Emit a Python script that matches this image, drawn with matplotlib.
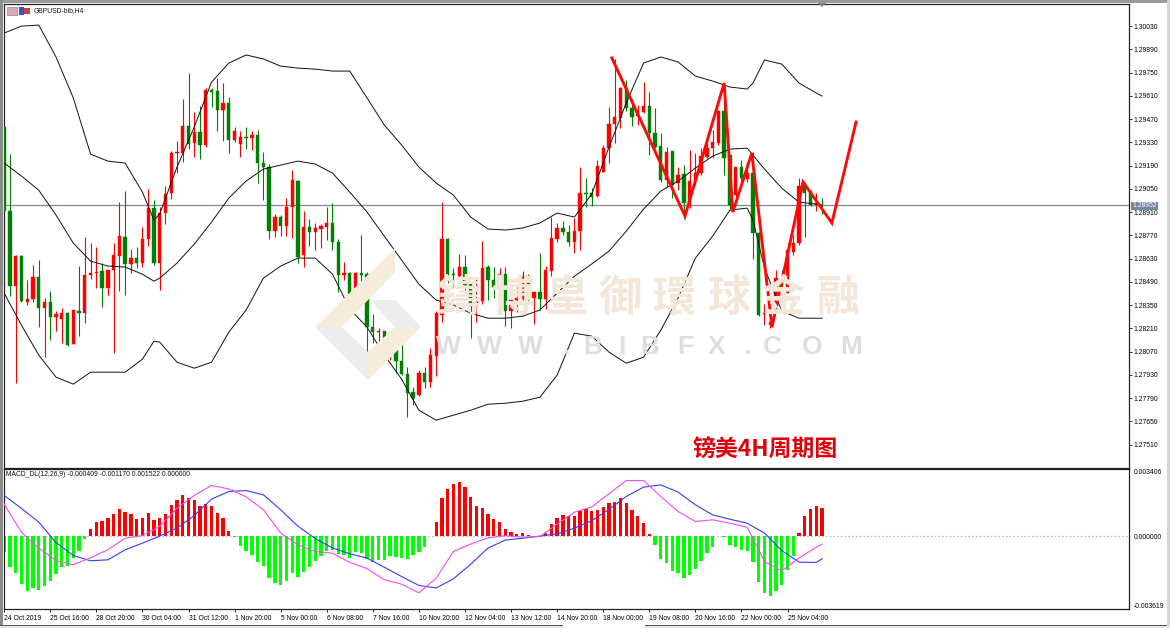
import matplotlib
matplotlib.use("Agg")
import matplotlib.pyplot as plt
from matplotlib.patches import Polygon, Rectangle

# GBPUSD H4 candles
opens = [1.29422,1.28916,1.28466,1.28645,1.28368,1.28386,1.28517,1.28330,1.28368,1.28277,1.28267,1.28300,1.28113,1.28314,1.28303,1.28530,1.28542,1.28554,1.28450,1.28561,
1.28647,1.28761,1.28597,1.28633,1.28601,1.28747,1.28934,1.28604,1.28902,1.29023,1.29264,1.29267,1.29428,1.29324,1.29394,1.29314,1.29645,1.29639,1.29524,1.29565,
1.29344,1.29318,1.29362,1.29357,1.29374,1.29207,1.29183,1.28794,1.28882,1.28827,1.28942,1.29097,1.28651,1.28821,1.28789,1.28809,1.28821,1.28844,1.28731,1.28530,
1.28544,1.28416,1.28541,1.28536,1.28219,1.28187,1.28191,1.28153,1.28159,1.28014,1.27938,1.27827,1.27807,1.27942,1.27888,1.28044,1.28289,1.28745,1.28536,1.28526,
1.28577,1.28476,1.28344,1.28376,1.28577,1.28500,1.28460,1.28536,1.28315,1.28378,1.28386,1.28526,1.28394,1.28428,1.28386,1.28556,1.28747,1.28814,1.28788,1.28727,
1.28794,1.29023,1.29023,1.29006,1.29149,1.29294,1.29440,1.29474,1.29655,1.29535,1.29490,1.29510,1.29548,1.29384,1.29308,1.29103,1.29277,1.29083,1.29137,1.28962,
1.29098,1.29147,1.29243,1.29294,1.29324,1.29520,1.29253,1.29012,1.29179,1.29107,1.29143,1.28782,1.28294,1.28229,1.28362,1.28500,1.28420,1.28671,1.28721,1.29066,
1.29032,1.28950,1.28954]
highs = [1.29422,1.29259,1.28651,1.28653,1.28500,1.28589,1.28619,1.28390,1.28434,1.28315,1.28330,1.28306,1.28320,1.28585,1.28757,1.28721,1.28697,1.28604,1.28561,1.28721,
1.28972,1.29038,1.28687,1.28697,1.28818,1.29047,1.28982,1.28938,1.29066,1.29279,1.29339,1.29591,1.29749,1.29514,1.29548,1.29655,1.29655,1.29715,1.29689,1.29604,
1.29424,1.29398,1.29424,1.29398,1.29404,1.29273,1.29199,1.28898,1.28894,1.28994,1.29163,1.29103,1.28918,1.28866,1.28845,1.28838,1.28938,1.28962,1.28747,1.28607,
1.28550,1.28550,1.28771,1.28550,1.28294,1.28215,1.28193,1.28175,1.28219,1.28209,1.27978,1.27858,1.27958,1.27978,1.28089,1.28315,1.28968,1.28751,1.28571,1.28657,
1.28651,1.28480,1.28506,1.28735,1.28591,1.28580,1.28574,1.28577,1.28446,1.28464,1.28554,1.28536,1.28430,1.28661,1.28586,1.28878,1.28842,1.28856,1.28832,1.28872,
1.29183,1.29113,1.29053,1.29223,1.29314,1.29544,1.29830,1.29661,1.29705,1.29589,1.29554,1.29691,1.29635,1.29535,1.29384,1.29303,1.29277,1.29179,1.29193,1.29283,
1.29264,1.29295,1.29324,1.29404,1.29524,1.29574,1.29253,1.29183,1.29223,1.29213,1.29273,1.28791,1.28356,1.28290,1.28561,1.28561,1.28723,1.28771,1.29115,1.29092,
1.29042,1.29024,1.28992]
lows = [1.28916,1.28404,1.27880,1.28370,1.28348,1.28370,1.28219,1.28035,1.28139,1.28193,1.28123,1.28103,1.28113,1.28163,1.28243,1.28506,1.28450,1.28339,1.28412,1.28059,
1.28436,1.28412,1.28544,1.28574,1.28580,1.28707,1.28589,1.28440,1.28838,1.28990,1.29143,1.29213,1.29288,1.29239,1.29231,1.29300,1.29544,1.29400,1.29339,1.29264,
1.29333,1.29239,1.29288,1.29283,1.29083,1.28982,1.28749,1.28757,1.28767,1.28767,1.28751,1.28601,1.28580,1.28705,1.28681,1.28691,1.28741,1.28681,1.28430,1.28500,
1.28370,1.28364,1.28476,1.27928,1.28123,1.28079,1.28079,1.28018,1.27942,1.27928,1.27677,1.27747,1.27803,1.27848,1.27854,1.27924,1.28249,1.28484,1.28454,1.28510,
1.28434,1.28149,1.28249,1.28356,1.28380,1.28392,1.28430,1.28225,1.28209,1.28309,1.28356,1.28376,1.28239,1.28320,1.28324,1.28526,1.28731,1.28771,1.28707,1.28661,
1.28681,1.28942,1.28946,1.29002,1.29149,1.29207,1.29326,1.29414,1.29518,1.29428,1.29434,1.29506,1.29253,1.29294,1.29092,1.29062,1.28992,1.29042,1.28866,1.28934,
1.29073,1.29133,1.29235,1.29235,1.29314,1.29133,1.28926,1.28964,1.29103,1.29092,1.28625,1.28283,1.28233,1.28211,1.28301,1.28400,1.28420,1.28651,1.28711,1.28761,
1.28946,1.28918,1.28896]
closes = [1.28916,1.28466,1.28645,1.28374,1.28388,1.28517,1.28333,1.28366,1.28279,1.28297,1.28300,1.28109,1.28320,1.28303,1.28530,1.28544,1.28548,1.28454,1.28561,1.28649,
1.28765,1.28597,1.28633,1.28601,1.28747,1.28934,1.28604,1.28902,1.29017,1.29267,1.29270,1.29428,1.29320,1.29394,1.29314,1.29645,1.29635,1.29524,1.29565,1.29344,
1.29398,1.29360,1.29357,1.29374,1.29207,1.29179,1.28794,1.28882,1.28827,1.28942,1.29101,1.28641,1.28821,1.28791,1.28813,1.28826,1.28844,1.28731,1.28530,1.28544,
1.28416,1.28541,1.28530,1.28219,1.28189,1.28191,1.28153,1.28157,1.28014,1.27934,1.27821,1.27788,1.27942,1.27888,1.28048,1.28300,1.28745,1.28536,1.28529,1.28577,
1.28470,1.28344,1.28380,1.28574,1.28500,1.28460,1.28536,1.28315,1.28380,1.28390,1.28526,1.28394,1.28428,1.28386,1.28561,1.28753,1.28814,1.28791,1.28731,1.28794,
1.29023,1.29018,1.29000,1.29187,1.29297,1.29440,1.29480,1.29655,1.29535,1.29484,1.29518,1.29548,1.29384,1.29303,1.29103,1.29273,1.29073,1.29133,1.28962,1.29098,
1.29147,1.29247,1.29294,1.29330,1.29520,1.29233,1.28952,1.29179,1.29117,1.29147,1.28782,1.28290,1.28300,1.28247,1.28512,1.28430,1.28681,1.28721,1.29066,1.29026,
1.28952,1.28962,1.28950]

# bollinger bands, read about every third bar
band_x = [0,3,6,9,12,15,18,21,24,26,27,30,33,36,39,42,45,48,51,54,57,60,63,66,69,72,75,78,81,84,87,90,93,96,99,102,105,108,111,114,117,120,123,126,129,130,132,135,138,141,142]
upper = [1.29988,1.30030,1.30036,1.29844,1.29597,1.29259,1.29217,1.29205,1.29030,1.28862,1.28898,1.29181,1.29422,1.29693,1.29807,1.29856,1.29832,1.29789,1.29777,1.29771,1.29759,
1.29759,1.29597,1.29434,1.29314,1.29181,1.29085,1.29012,1.28880,1.28808,1.28802,1.28814,1.28844,1.28904,1.28880,1.29018,1.29301,1.29567,1.29807,1.29844,1.29814,
1.29729,1.29699,1.29663,1.29651,1.29687,1.29826,1.29801,1.29687,1.29627,1.29609]
middle = [1.29205,1.29127,1.29042,1.28892,1.28723,1.28615,1.28585,1.28579,1.28536,1.28494,1.28512,1.28603,1.28717,1.28850,1.28994,1.29097,1.29169,1.29193,1.29217,1.29199,1.29145,
1.29030,1.28910,1.28765,1.28621,1.28476,1.28380,1.28350,1.28301,1.28271,1.28271,1.28283,1.28320,1.28422,1.28524,1.28597,1.28675,1.28795,1.28928,1.29036,1.29097,
1.29175,1.29247,1.29289,1.29295,1.29253,1.29169,1.29054,1.28970,1.28958,1.28952]
lower = [1.28422,1.28229,1.28049,1.27916,1.27874,1.27946,1.27946,1.27946,1.28024,1.28133,1.28127,1.28006,1.27970,1.28006,1.28187,1.28320,1.28512,1.28585,1.28633,1.28633,1.28536,
1.28326,1.28217,1.28049,1.27904,1.27717,1.27657,1.27687,1.27717,1.27753,1.27759,1.27771,1.27795,1.27928,1.28181,1.28163,1.28067,1.28000,1.28036,1.28199,1.28392,
1.28633,1.28765,1.28922,1.28934,1.28862,1.28573,1.28314,1.28271,1.28271,1.28271]

# hand drawn zigzag on top of the chart
zig_x = [105.5,118.2,125.0,126.5,129.8,133.3,138.7,143.7,147.9]
zig_y = [1.29838,1.28886,1.29687,1.28910,1.29265,1.28217,1.29091,1.28844,1.29452]

last_price = 1.28952
price_ticks = [1.30030,1.29890,1.29750,1.29610,1.29470,1.29330,1.29190,1.29050,1.28910,1.28770,1.28630,1.28490,1.28350,1.28210,1.28070,1.27930,1.27790,1.27650,1.27510]

# MACD
hist = [-0.00084,-0.00163,-0.00190,-0.00249,-0.00285,-0.00272,-0.00281,-0.00260,-0.00234,-0.00197,-0.00163,-0.00155,-0.00114,-0.00079,-0.00012,
0.00040,0.00074,0.00083,0.00098,0.00121,0.00146,0.00130,0.00116,0.00093,0.00098,0.00125,0.00088,0.00097,0.00119,0.00167,0.00192,0.00218,0.00204,0.00193,0.00163,0.00170,0.00163,0.00125,0.00097,0.00030,-0.00001,
-0.00049,-0.00076,-0.00098,-0.00134,-0.00155,-0.00221,-0.00244,-0.00258,-0.00234,-0.00190,-0.00213,-0.00186,-0.00160,-0.00128,-0.00102,-0.00074,-0.00070,-0.00091,-0.00097,-0.00112,-0.00083,-0.00088,-0.00119,-0.00132,-0.00123,-0.00123,-0.00105,-0.00107,-0.00114,-0.00118,-0.00097,-0.00083,-0.00053,0.00001,
0.00076,0.00202,0.00251,0.00276,0.00285,0.00262,0.00209,0.00163,0.00149,0.00118,0.00091,0.00079,0.00042,0.00025,0.00012,0.00019,0.00007,0.00004,0.00002,0.00019,0.00065,0.00098,0.00114,0.00109,0.00109,0.00135,0.00146,0.00134,0.00141,0.00156,0.00174,0.00184,0.00202,0.00177,0.00141,0.00107,0.00072,0.00014,
-0.00044,-0.00118,-0.00141,-0.00181,-0.00193,-0.00220,-0.00204,-0.00170,-0.00128,-0.00086,-0.00053,0.00004,-0.00002,-0.00046,-0.00055,-0.00070,-0.00076,-0.00134,-0.00239,-0.00299,-0.00316,-0.00285,-0.00255,-0.00179,-0.00102,0.00019,0.00107,0.00146,0.00163,0.00152]
macd_x = list(range(0, 142, 3)) + [142]
signal_blue = [0.00216,0.00148,0.00076,-0.00032,-0.00100,-0.00128,-0.00123,-0.00070,-0.00035,0.00002,0.00044,0.00111,0.00197,0.00237,0.00242,0.00220,0.00141,0.00054,-0.00011,-0.00060,
-0.00091,-0.00114,-0.00162,-0.00211,-0.00258,-0.00271,-0.00223,-0.00146,-0.00061,-0.00019,-0.00009,0.00002,0.00014,0.00044,0.00083,0.00142,0.00211,0.00260,0.00272,0.00234,
0.00167,0.00114,0.00091,0.00070,0.00018,-0.00074,-0.00135,-0.00137,-0.00117]
main_magenta = [0.00170,0.00023,-0.00061,-0.00127,-0.00149,-0.00112,-0.00070,-0.00009,0.00005,0.00053,0.00149,0.00216,0.00269,0.00251,0.00209,0.00141,0.00019,-0.00044,-0.00079,-0.00088,
-0.00137,-0.00169,-0.00228,-0.00251,-0.00297,-0.00220,-0.00079,-0.00040,-0.00007,0.00004,-0.00004,0.00000,0.00065,0.00128,0.00156,0.00225,0.00295,0.00295,0.00211,0.00132,
0.00079,0.00088,0.00070,0.00049,-0.00132,-0.00181,-0.00114,-0.00056,-0.00041]

date_labels = ["24 Oct 2019","25 Oct 16:00","28 Oct 20:00","30 Oct 04:00","31 Oct 12:00","1 Nov 20:00","5 Nov 00:00","6 Nov 08:00","7 Nov 16:00",
"10 Nov 20:00","12 Nov 04:00","13 Nov 12:00","14 Nov 20:00","18 Nov 00:00","19 Nov 08:00","20 Nov 16:00","22 Nov 00:00","25 Nov 04:00"]
date_pos = list(range(0, 143, 8))

W, H = 1170, 628
plt.rcParams["font.family"] = ["Liberation Sans", "DejaVu Sans"]
plt.rcParams["font.size"] = 4.9
plt.rcParams["text.color"] = "black"
cjk = ["Noto Sans CJK TC", "DejaVu Sans"]


def fx(x):
    return x / W


def fy(y):
    return 1 - y / H


def axes_px(x0, y0, x1, y1):
    return fig.add_axes([fx(x0), fy(y1), (x1 - x0) / W, (y1 - y0) / H])


def poly(pts, color, z=0):
    fig.patches.append(Polygon([(fx(a), fy(b)) for a, b in pts], closed=True, transform=fig.transFigure,
                               facecolor=color, edgecolor="none", zorder=z))


fig = plt.figure(figsize=(W / 100, H / 100), dpi=100, facecolor="white")

# window chrome
poly([(0, 0), (1170, 0), (1170, 3), (0, 3)], "#9a9a9a")
poly([(0, 0), (3, 0), (3, 625), (0, 625)], "#8c8c8c")
poly([(1167, 0), (1170, 0), (1170, 628), (1167, 628)], "#d4d4d4")
poly([(0, 625), (1170, 625), (1170, 628), (0, 628)], "#e6e6e6")
poly([(563, 625), (645, 625), (645, 628), (563, 628)], "#ffffff")
poly([(0, 624.5), (563, 624.5), (563, 625.5), (0, 625.5)], "#555555")
poly([(645, 624.5), (1167, 624.5), (1167, 625.5), (645, 625.5)], "#555555")
poly([(818, 3), (826, 3), (822, 7)], "#808080", 5)

ax = axes_px(3.5, 3.5, 1128.5, 467.5)
ax.patch.set_alpha(0)
ax.set_xlim(-0.12, 195.2)
ax.set_ylim(1.27372, 1.30166)

# watermark logo and text go under the candles
for pts, col in [([(315, 327), (342, 327), (395, 272), (395, 248)], "#f5ecdc"),
                 ([(315, 327), (342, 327), (368, 352), (368, 380)], "#ececec"),
                 ([(368, 352), (395, 327), (421, 327), (368, 380)], "#f5ecdc"),
                 ([(370, 300), (395, 300), (421, 327), (395, 327)], "#ececec")]:
    poly(pts, col)
for ch, cx in zip("鑄博皇御環球金融", [459, 513, 567, 620, 674, 729, 783, 838]):
    fig.text(fx(cx), fy(298), ch, family=cjk, fontsize=31, fontweight="bold", color="#f2e7d8",
             ha="center", va="center", zorder=0)
for ch, cx in zip("WWW.BIBFX.COM", [448, 489, 530, 566, 593, 622, 650, 685, 717, 747, 772, 812, 851]):
    fig.text(fx(cx), fy(347), ch, fontsize=19, fontweight="bold", color="#dedede", ha="center", va="center", zorder=0)

ax.axhline(last_price, color="#7f8791", lw=0.9, zorder=1)

for i in range(len(opens)):
    col = "#ff0000" if closes[i] >= opens[i] else "#008000"
    ax.vlines(i, lows[i], highs[i], color=col, lw=0.8, zorder=2)
    ax.bar(i, abs(closes[i] - opens[i]), bottom=min(opens[i], closes[i]), width=0.58, color=col,
           edgecolor=col, lw=0.3, zorder=3)

ax.plot(band_x, upper, color="#101010", lw=0.7, zorder=4)
ax.plot(band_x, middle, color="#101010", lw=0.7, zorder=4)
ax.plot(band_x, lower, color="#101010", lw=0.7, zorder=4)
ax.plot(zig_x, zig_y, color="#ff0a0a", lw=2.1, zorder=5, solid_joinstyle="miter")

ax.yaxis.tick_right()
ax.set_yticks(price_ticks)
ax.set_yticklabels(["%.5f" % p for p in price_ticks])
ax.tick_params(axis="y", length=2.2, width=0.6, pad=1.2)
ax.set_xticks([])
for s in ax.spines.values():
    s.set_linewidth(0.9)
    s.set_color("#222222")

fig.text(fx(34), fy(10.5), "GBPUSD-bib,H4", va="center", ha="left", color="#111111")
fig.patches.append(Rectangle((fx(7), fy(14.5)), 10 / W, 8 / H, transform=fig.transFigure, facecolor="#d8a8b8", edgecolor="#8a8a9a", lw=0.5, zorder=6))
fig.patches.append(Rectangle((fx(19), fy(14.5)), 5 / W, 8 / H, transform=fig.transFigure, facecolor="#4050c8", edgecolor="none", zorder=6))
fig.patches.append(Rectangle((fx(24), fy(13.5)), 6 / W, 6 / H, transform=fig.transFigure, facecolor="#c84040", edgecolor="none", zorder=6))

fig.text(fx(765), fy(450), "镑美4H周期图", family=["Noto Sans CJK SC", "DejaVu Sans"], fontsize=16.5,
         fontweight="bold", color="#e0000a", ha="center", va="center", zorder=8)

# last price box
fig.patches.append(Rectangle((fx(1131), fy(209.5)), 27 / W, 8 / H, transform=fig.transFigure, facecolor="#7488a0", edgecolor="none", zorder=6))
fig.text(fx(1145), fy(205.5), "%.5f" % last_price, color="white", ha="center", va="center", zorder=7)

# MACD panel
ax2 = axes_px(3.5, 469, 1128.5, 609)
ax2.patch.set_alpha(0)
ax2.set_xlim(-0.12, 195.2)
ax2.set_ylim(-0.003821, 0.003557)
ax2.axhline(0, color="#b8c4d2", lw=0.9, ls=(0, (1.5, 1.5)), zorder=1)
bar_cols = ["#ff0000" if v > 0 else "#00ff00" for v in hist]
ax2.bar(range(len(hist)), hist, width=0.58, color=bar_cols, zorder=2)
ax2.plot(macd_x, signal_blue, color="#3a3af5", lw=0.8, zorder=3)
ax2.plot(macd_x, main_magenta, color="#f54af0", lw=0.8, zorder=3)
ax2.yaxis.tick_right()
ax2.set_yticks([0.003406, 0.0, -0.003619])
ax2.set_yticklabels(["0.003406", "0.000000", "-0.003619"])
ax2.tick_params(axis="y", length=0, pad=4)
ax2.set_xticks(date_pos)
ax2.set_xticklabels(date_labels, ha="left")
ax2.tick_params(axis="x", length=2.2, width=0.6, pad=1.8, direction="out")
for s in ax2.spines.values():
    s.set_linewidth(0.9)
    s.set_color("#222222")

fig.text(fx(6), fy(475), "MACD_DL(12,26,9) -0.000409 -0.001170 0.001522 0.000000", va="center", ha="left", color="#111111", zorder=7)

fig.savefig("out.png", dpi=100, facecolor="white")
